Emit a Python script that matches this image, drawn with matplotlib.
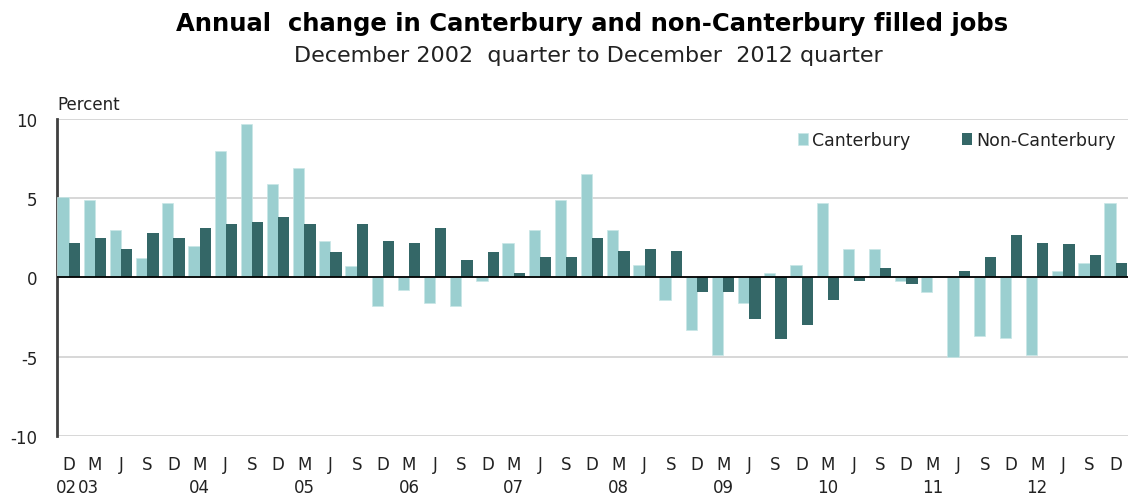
import matplotlib
matplotlib.use("Agg")
import matplotlib.pyplot as plt
import matplotlib.transforms as mtransforms
import numpy as np

plt.rcParams['font.family'] = ['DejaVu Sans']

quarters = ['D', 'M', 'J', 'S'] * 10 + ['D']
# year label -> position (category index)
year_labels = ['02', '03', '04', '05', '06', '07', '08', '09', '10', '11', '12']
year_pos = [-0.1, 0.75, 5, 9, 13, 17, 21, 25, 29, 33, 37]

canterbury = [5.1, 4.9, 3.0, 1.2, 4.7, 2.0, 8.0, 9.7, 5.9, 6.9,
              2.3, 0.7, -1.8, -0.8, -1.6, -1.8, -0.2, 2.2, 3.0, 4.9,
              6.5, 3.0, 0.8, -1.4, -3.3, -4.9, -1.6, 0.3, 0.8, 4.7,
              1.8, 1.8, -0.2, -0.9, -5.0, -3.7, -3.8, -4.9, 0.4, 0.9,
              4.7]
non_canterbury = [2.2, 2.5, 1.8, 2.8, 2.5, 3.1, 3.4, 3.5, 3.8, 3.4,
                  1.6, 3.4, 2.3, 2.2, 3.1, 1.1, 1.6, 0.3, 1.3, 1.3,
                  2.5, 1.7, 1.8, 1.7, -0.9, -0.9, -2.6, -3.9, -3.0, -1.4,
                  -0.2, 0.6, -0.4, 0.0, 0.4, 1.3, 2.7, 2.2, 2.1, 1.4,
                  0.9]

light = '#9bcfd0'
dark = '#346767'
txt = '#222222'

fig = plt.figure(figsize=(11.28, 5.02), dpi=100)
ax = fig.add_axes([0.0505, 0.1295, 0.9495, 0.6315])

x = np.arange(len(quarters))
w = 0.43
ax.bar(x - w / 2, canterbury, w, color=light, edgecolor='#c8e6e6', linewidth=0.5,
       label='Canterbury', zorder=3)
ax.bar(x + w / 2, non_canterbury, w, color=dark, label='Non-Canterbury', zorder=3)

ax.set_xlim(-0.45, len(quarters) - 0.53)
ax.set_ylim(-10, 10)
ax.set_yticks([-10, -5, 0, 5, 10])
ax.set_yticklabels(['-10', '-5', '0', '5', '10'], fontsize=12, color=txt)
ax.yaxis.grid(True, color='#d4d4d4', linewidth=1.3, zorder=0)
ax.axhline(0, color='black', linewidth=1.3, zorder=4)
ax.tick_params(axis='y', length=0, pad=14)

ax.set_xticks(x)
ax.set_xticklabels(quarters, fontsize=12, color=txt)
ax.tick_params(axis='x', length=0, pad=14)
trans = mtransforms.blended_transform_factory(ax.transData, fig.transFigure)
for lab, p in zip(year_labels, year_pos):
    ax.text(p, 0.028, lab, transform=trans, ha='center', va='center',
            fontsize=12, color=txt)

for s in ['top', 'right', 'bottom']:
    ax.spines[s].set_visible(False)
ax.spines['left'].set_color('#404040')
ax.spines['left'].set_linewidth(2)

fig.text(0.051, 0.791, 'Percent', fontsize=12, ha='left', va='center', color=txt)
fig.text(0.525, 0.952, 'Annual  change in Canterbury and non-Canterbury filled jobs',
         fontsize=17.5, fontweight='bold', ha='center', va='center', color='black')
fig.text(0.522, 0.888, 'December 2002  quarter to December  2012 quarter',
         fontsize=16, ha='center', va='center', color=txt)

leg = ax.legend(loc='upper right', bbox_to_anchor=(1.003, 1.01), ncol=2, frameon=False,
                fontsize=12.5, handlelength=0.55, handleheight=0.7, handletextpad=0.25,
                columnspacing=3.0)
for t in leg.get_texts():
    t.set_color(txt)

fig.savefig('out.png', dpi=100)
